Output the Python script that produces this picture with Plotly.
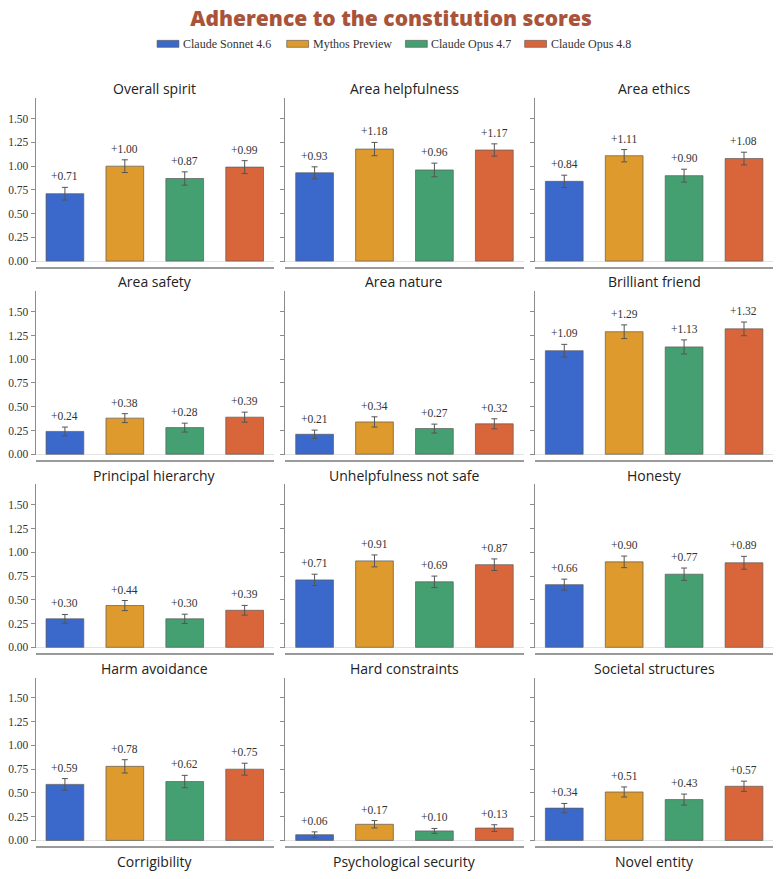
import plotly.graph_objects as go

models = ["Claude Sonnet 4.6", "Mythos Preview", "Claude Opus 4.7", "Claude Opus 4.8"]
colors = ["#3B69CB", "#DE9A2C", "#45A071", "#D9663A"]

panels = ["Overall spirit", "Area helpfulness", "Area ethics",
          "Area safety", "Area nature", "Brilliant friend",
          "Principal hierarchy", "Unhelpfulness not safe", "Honesty",
          "Harm avoidance", "Hard constraints", "Societal structures",
          "Corrigibility", "Psychological security", "Novel entity"]

overall_spirit = [0.71, 1.00, 0.87, 0.99]
area_helpfulness = [0.93, 1.18, 0.96, 1.17]
area_ethics = [0.84, 1.11, 0.90, 1.08]
area_safety = [0.24, 0.38, 0.28, 0.39]
area_nature = [0.21, 0.34, 0.27, 0.32]
brilliant_friend = [1.09, 1.29, 1.13, 1.32]
principal_hierarchy = [0.30, 0.44, 0.30, 0.39]
unhelpfulness_not_safe = [0.71, 0.91, 0.69, 0.87]
honesty = [0.66, 0.90, 0.77, 0.89]
harm_avoidance = [0.59, 0.78, 0.62, 0.75]
hard_constraints = [0.06, 0.17, 0.10, 0.13]
societal_structures = [0.34, 0.51, 0.43, 0.57]

overall_spirit_err = [0.067, 0.067, 0.070, 0.068]
area_helpfulness_err = [0.063, 0.070, 0.072, 0.065]
area_ethics_err = [0.065, 0.065, 0.068, 0.067]
area_safety_err = [0.046, 0.047, 0.047, 0.053]
area_nature_err = [0.044, 0.054, 0.047, 0.053]
brilliant_friend_err = [0.067, 0.072, 0.074, 0.072]
principal_hierarchy_err = [0.046, 0.053, 0.049, 0.051]
unhelpfulness_not_safe_err = [0.060, 0.063, 0.060, 0.061]
honesty_err = [0.058, 0.061, 0.065, 0.068]
harm_avoidance_err = [0.061, 0.070, 0.065, 0.063]
hard_constraints_err = [0.030, 0.039, 0.026, 0.035]
societal_structures_err = [0.049, 0.053, 0.058, 0.054]

values = [overall_spirit, area_helpfulness, area_ethics, area_safety, area_nature,
          brilliant_friend, principal_hierarchy, unhelpfulness_not_safe, honesty,
          harm_avoidance, hard_constraints, societal_structures]
errors = [overall_spirit_err, area_helpfulness_err, area_ethics_err, area_safety_err,
          area_nature_err, brilliant_friend_err, principal_hierarchy_err,
          unhelpfulness_not_safe_err, honesty_err, harm_avoidance_err,
          hard_constraints_err, societal_structures_err]

# page offset (default body margin of the html page)
OFF = 8
W, H = 774, 1075
SERIF = "Liberation Serif"
SANS = "Open Sans"


def px(p):
    return (p - OFF) / W


def py(p):
    return 1 - (p - OFF) / H


col_left = [30.7, 282.0, 533.3]
col_w = 240.0
zero0, pitch = 262.3, 194.0
YR = [-0.01, 1.715]
pxu = 95.4

fig = go.Figure()
layout = {}
annotations = []
shapes = []

for i, name in enumerate(panels):
    r, c = divmod(i, 3)
    k = i + 1
    xa = "x" if k == 1 else f"x{k}"
    ya = "y" if k == 1 else f"y{k}"
    zero = zero0 + pitch * r
    ybot = zero - YR[0] * pxu
    ytop = zero - YR[1] * pxu
    x0 = px(col_left[c])
    x1 = px(col_left[c] + col_w)
    layout["xaxis" if k == 1 else f"xaxis{k}"] = dict(
        domain=[x0, x1], anchor="free", position=max(0, py(zero + 6.5)),
        range=[-0.49, 3.49], showline=True, linecolor="#9a9a9a", linewidth=1.5,
        showticklabels=False, ticks="", showgrid=False, zeroline=False,
        categoryorder="array", categoryarray=models, type="category")
    layout["yaxis" if k == 1 else f"yaxis{k}"] = dict(
        domain=[py(ybot), py(ytop)], anchor=xa, range=YR,
        showline=True, linecolor="#8c8c8c", linewidth=1,
        ticks="outside", ticklen=4, tickcolor="#8c8c8c", tickwidth=1,
        tick0=0, dtick=0.25, tickformat=".2f",
        showticklabels=(c == 0), tickfont=dict(family=SERIF, size=11.5, color="#333333"),
        showgrid=False, zeroline=True, zerolinecolor="#e3e3e3", zerolinewidth=1.2)
    annotations.append(dict(
        text=name, xref="paper", yref="paper",
        x=(x0 + x1) / 2, y=py(ytop - 9.5), xanchor="center", yanchor="middle",
        showarrow=False, font=dict(family=SANS, size=14, color="#222222")))
    if i < len(values):
        v = values[i]
        e = errors[i]
        for j, m in enumerate(models):
            fig.add_trace(go.Bar(
                x=[m], y=[v[j]], name=m, showlegend=False,
                marker=dict(color=colors[j], line=dict(color="rgba(90,90,90,0.7)", width=1)),
                width=0.63,
                error_y=dict(type="data", array=[e[j]], color="#555555", thickness=1, width=3),
                xaxis=xa, yaxis=ya, hoverinfo="skip"))
            annotations.append(dict(
                text=f"+{v[j]:.2f}", xref=xa, yref=ya, x=m, y=v[j] + e[j],
                xanchor="center", yanchor="bottom", yshift=3, showarrow=False,
                font=dict(family=SERIF, size=11.5, color="#333333")))

# legend (manual, to match the wide flat swatches)
legend_x = [153, 283.5, 403, 523]
for j, m in enumerate(models):
    shapes.append(dict(type="rect", xref="paper", yref="paper",
                       x0=px(legend_x[j]), x1=px(legend_x[j] + 22),
                       y0=py(47.5), y1=py(40.5),
                       fillcolor=colors[j], line=dict(color="rgba(80,80,80,0.6)", width=1)))
    annotations.append(dict(text=m, xref="paper", yref="paper",
                            x=px(legend_x[j] + 24), y=py(44.5),
                            xanchor="left", yanchor="middle", showarrow=False,
                            font=dict(family=SERIF, size=12, color="#333333")))

fig.update_layout(
    **layout,
    width=W, height=H,
    margin=dict(l=0, r=0, t=0, b=0),
    paper_bgcolor="white", plot_bgcolor="white",
    barmode="overlay",
    title=dict(text="Adherence to the constitution scores",
               x=px(391), xanchor="center", y=py(18.5), yanchor="middle",
               font=dict(family=SANS, size=21, color="#A9543A", weight=800)),
    annotations=annotations,
    shapes=shapes,
    showlegend=False,
)

fig.write_html("out.html")
